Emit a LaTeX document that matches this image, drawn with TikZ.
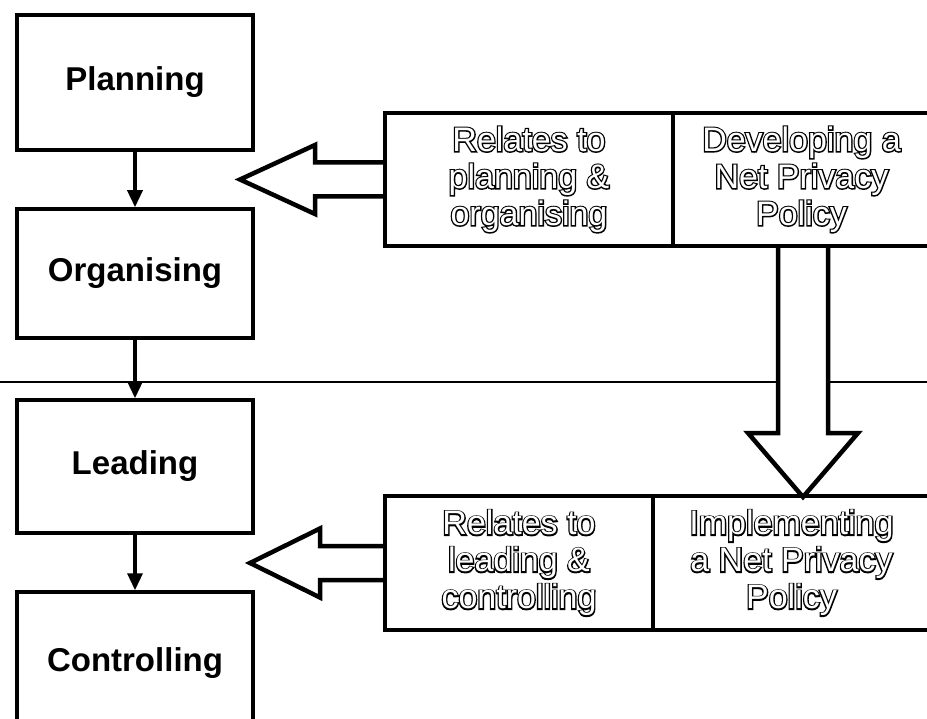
\documentclass[tikz,border=0pt]{standalone}
\usepackage{fontspec}
\setmainfont{Liberation Sans}
\usetikzlibrary{arrows.meta,calc}
\newcommand\hol[1]{\rlap{\special{pdf:literal direct 1 Tr 2.6 w}#1\special{pdf:literal direct 0 Tr}}\textcolor{white}{#1}}
\tikzset{
 stage/.style={draw, line width=3.5pt, minimum width=236pt, inner sep=0pt,
   font=\fontsize{33}{38}\selectfont\bfseries},
 infobox/.style={draw, line width=4pt, inner sep=0pt, align=center,
   font=\fontsize{34}{37}\selectfont},
 flow/.style={line width=3.5pt, -{Triangle[length=17pt,width=15pt]}},
 bigarrow/.style={draw, fill=white, line width=4.5pt, line join=miter},
 divider/.style={line width=2pt}
}
\begin{document}
\begin{tikzpicture}[x=1pt,y=-1pt]
\clip (0,0) rectangle (927,719);
\fill[white] (0,0) rectangle (927,719);
% horizontal divider
\coordinate (hl) at (0,382);
\coordinate (hr) at (927,382);
\draw[divider] (hl) -- (hr);
% big arrows
\coordinate (tip1) at (240,179.5);
\coordinate (tip2) at (250,563);
\coordinate (dtip) at (803,497);
\path[bigarrow] (385,162.5) -- (315,162.5) -- (315,145) -- (tip1) -- (315,214) -- (315,196.5) -- (385,196.5);
\path[bigarrow] (385,546) -- (320,546) -- (320,528.5) -- (tip2) -- (320,597.5) -- (320,580) -- (385,580);
\path[bigarrow] (778,246) -- (778,433) -- (748,433) -- (dtip) -- (858,433) -- (828,433) -- (828,246);
% stage boxes
\node[stage, minimum height=135pt] (plan) at (135,82.5) {Planning};
\node[stage, minimum height=129pt] (org) at (135,273.5) {Organising};
\node[stage, minimum height=133pt] (lead) at (135,466.5) {Leading};
\node[stage, minimum height=142pt] (ctrl) at (135,663) {Controlling};
\draw[flow] (plan) -- (org);
\draw[flow] (org) -- (lead);
\draw[flow] (lead) -- (ctrl);
% info boxes
\node[infobox, minimum width=288pt, minimum height=133pt] (rel1) at (529,179.5)
  {\hol{Relates to}\\\hol{planning \&}\\\hol{organising}};
\node[infobox, minimum width=257pt, minimum height=133pt] (dev) at (801.5,179.5)
  {\hol{Developing a}\\\hol{Net Privacy}\\\hol{Policy}};
\node[infobox, minimum width=268pt, minimum height=134pt] (rel2) at (519,563)
  {\hol{Relates to}\\\hol{leading \&}\\\hol{controlling}};
\node[infobox, minimum width=277pt, minimum height=134pt] (impl) at (791.5,563)
  {\hol{Implementing}\\\hol{a Net Privacy}\\\hol{Policy}};
\end{tikzpicture}
\end{document}
